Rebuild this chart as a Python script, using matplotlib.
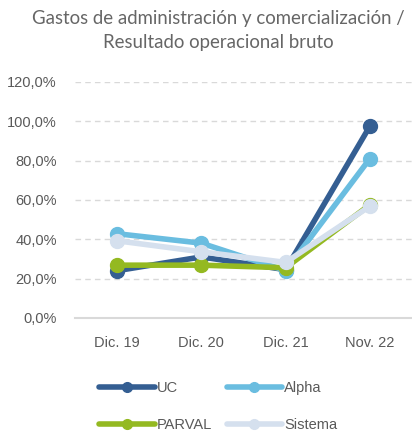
import matplotlib.pyplot as plt
from matplotlib.ticker import FuncFormatter

periods = ['Dic. 19', 'Dic. 20', 'Dic. 21', 'Nov. 22']
uc = [24.0, 31.0, 24.5, 97.5]
alpha = [42.8, 38.0, 24.0, 81.0]
parval = [26.8, 26.8, 25.5, 57.5]
sistema = [39.2, 33.6, 28.2, 56.8]

series = [('UC', uc, '#345E92'),
          ('Alpha', alpha, '#6ABDE0'),
          ('PARVAL', parval, '#94B921'),
          ('Sistema', sistema, '#D5E0EE')]

plt.rcParams['font.family'] = ['Liberation Sans', 'DejaVu Sans']

fig = plt.figure(figsize=(4.12, 4.36), dpi=100)
ax = fig.add_axes([0.182, 0.271, 0.818, 0.541])

x = range(len(periods))
lines = {}
for name, vals, col in series:
    lines[name], = ax.plot(x, vals, color=col, lw=4, marker='o', ms=10, label=name,
                           solid_capstyle='round')

ax.set_xlim(-0.5, 3.5)
ax.set_ylim(0, 120)
ax.set_yticks(range(0, 121, 20))
ax.yaxis.set_major_formatter(FuncFormatter(lambda v, p: f'{v:.1f}%'.replace('.', ',')))
ax.set_xticks(list(x))
ax.set_xticklabels(periods)
ax.tick_params(length=0, labelsize=10.5, colors='#595959')
ax.tick_params(axis='y', pad=13)
ax.tick_params(axis='x', pad=13)

ax.grid(axis='y', color='#D9D9D9', ls=(0, (4, 3)), lw=1)
ax.set_axisbelow(True)
for s in ['top', 'right', 'left']:
    ax.spines[s].set_visible(False)
ax.spines['bottom'].set_color('#D9D9D9')
ax.spines['bottom'].set_linewidth(1.5)

fig.text(0.53, 0.93, 'Gastos de administración y comercialización /\nResultado operacional bruto',
         ha='center', va='center', fontsize=13.4, color='#666666', family='Lato',
         linespacing=1.5)

order = ['UC', 'PARVAL', 'Alpha', 'Sistema']
fig.legend([lines[n] for n in order], order, loc='center', bbox_to_anchor=(0.53, 0.068),
           ncol=2, frameon=False, fontsize=10.5, labelcolor='#595959',
           handlelength=3.8, handletextpad=0.15, columnspacing=1.0,
           labelspacing=1.55, markerscale=0.7)

fig.savefig('out.png', dpi=100)
